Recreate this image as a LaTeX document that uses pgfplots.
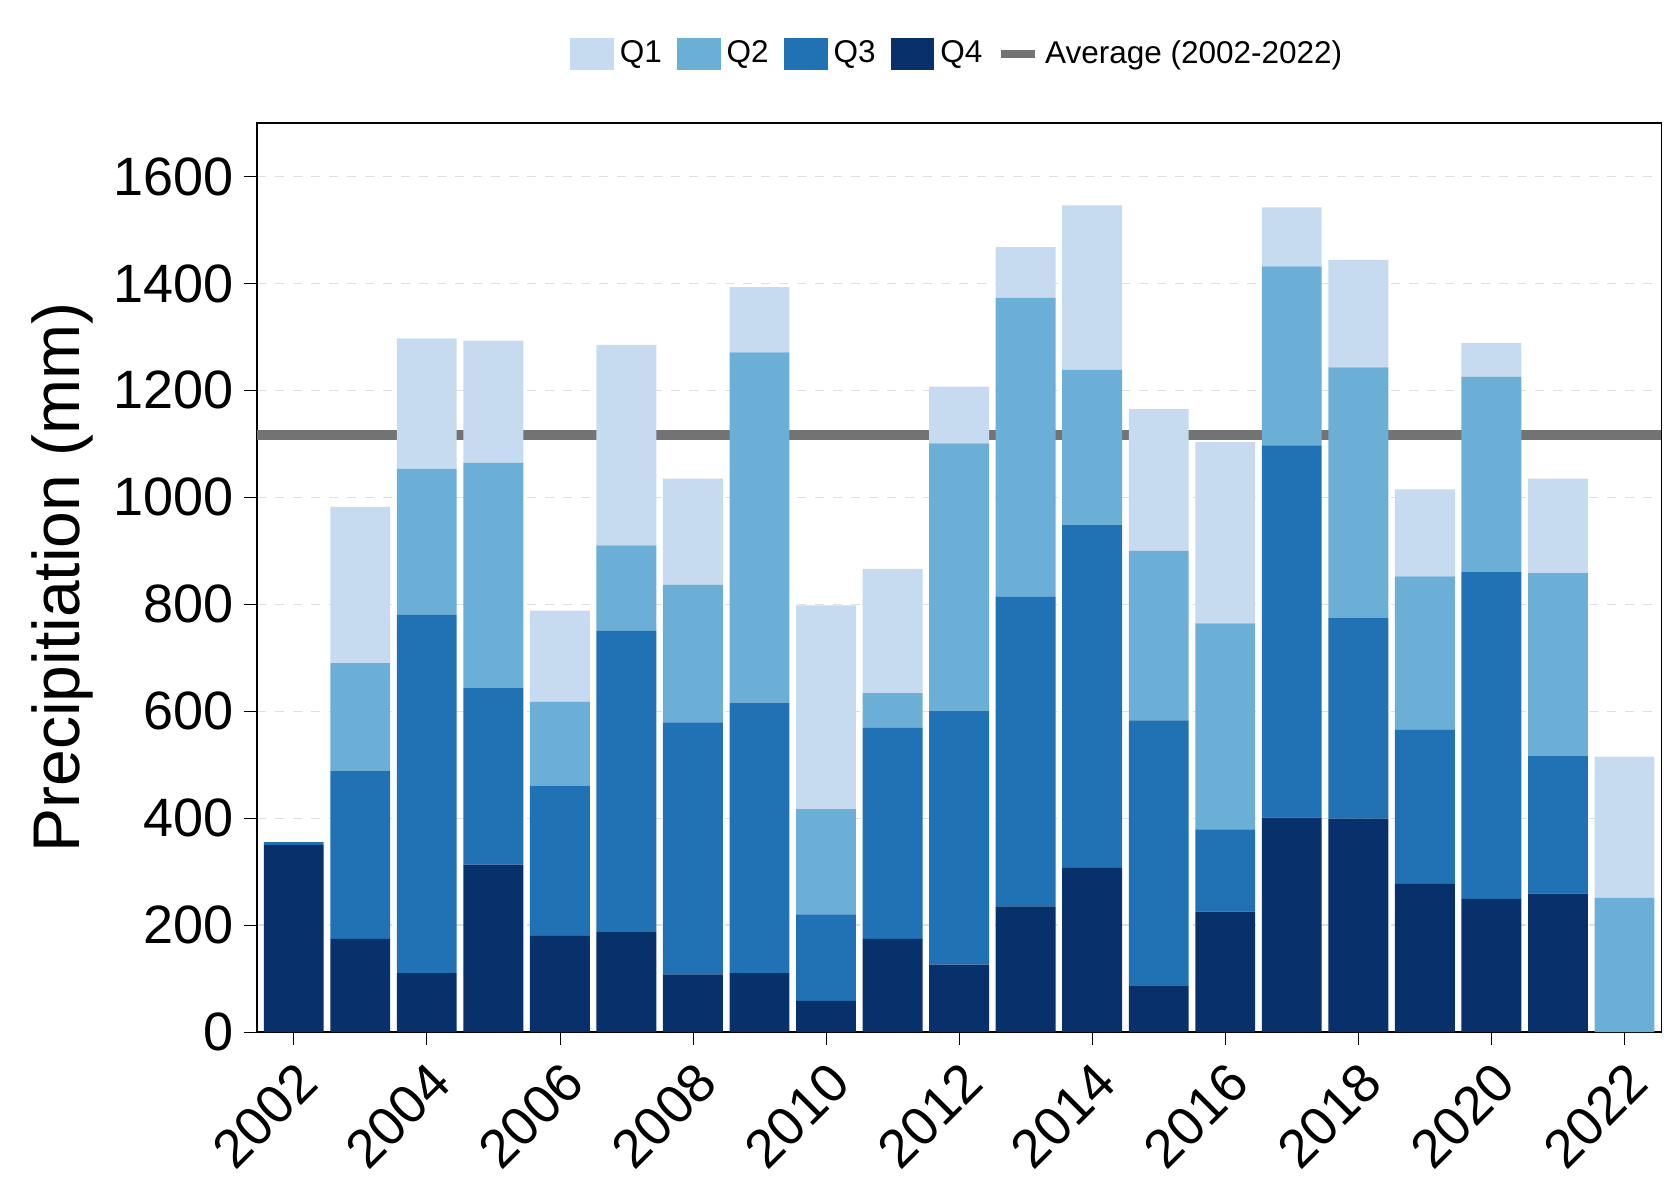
\documentclass[border=0pt]{standalone}
\usepackage{pgfplots}
\pgfplotsset{compat=1.18}
\usepackage{fontspec}
\setmainfont{Liberation Sans}
\definecolor{qa}{HTML}{C6DBEF}
\definecolor{qb}{HTML}{6BAED6}
\definecolor{qc}{HTML}{2171B5}
\definecolor{qd}{HTML}{08306B}
\begin{document}
\begin{tikzpicture}
\begin{axis}[
  scale only axis, width=468pt, height=303pt,
  ybar stacked, bar width=0.9,
  xmin=2001.45, xmax=2022.55, ymin=0, ymax=1700,
  xtick={2002,2004,...,2022},
  ytick={0,200,...,1600},
  x tick label style={rotate=45, anchor=north east, font=\fontsize{18}{20}\selectfont},
  y tick label style={font=\fontsize{18}{20}\selectfont},
  /pgf/number format/assume math mode=true,
  /pgf/number format/1000 sep={},
  ylabel={Precipitiation (mm)},
  ylabel style={font=\fontsize{22}{24}\selectfont},
  ymajorgrids, major grid style={dashed, gray!25},
  tick align=outside, tick style={black},
  xtick pos=bottom, ytick pos=left,
  legend style={at={(0.5,1)}, yshift=23pt, anchor=center, draw=none, legend columns=-1,
    font=\fontsize{10.5}{12}\selectfont, /tikz/every even column/.append style={column sep=3pt}},
]
\addplot[fill=qd, draw=none, forget plot] coordinates {(2002,350)(2003,174)(2004,110)(2005,313)(2006,180)(2007,188)(2008,108)(2009,110)(2010,58)(2011,174)(2012,126)(2013,235)(2014,307)(2015,86)(2016,225)(2017,401)(2018,399)(2019,277)(2020,249)(2021,259)(2022,0)};
\addplot[fill=qc, draw=none, forget plot] coordinates {(2002,5)(2003,315)(2004,670)(2005,331)(2006,281)(2007,562)(2008,471)(2009,506)(2010,162)(2011,395)(2012,474)(2013,579)(2014,641)(2015,497)(2016,154)(2017,696)(2018,375)(2019,288)(2020,611)(2021,258)(2022,0)};
\addplot[fill=qb, draw=none, forget plot] coordinates {(2002,0)(2003,201)(2004,273)(2005,421)(2006,157)(2007,160)(2008,257)(2009,655)(2010,197)(2011,65)(2012,501)(2013,559)(2014,291)(2015,317)(2016,385)(2017,335)(2018,469)(2019,287)(2020,365)(2021,341)(2022,251)};
\addplot[fill=qa, draw=none, forget plot] coordinates {(2002,0)(2003,292)(2004,244)(2005,228)(2006,170)(2007,375)(2008,199)(2009,122)(2010,381)(2011,232)(2012,106)(2013,95)(2014,307)(2015,265)(2016,339)(2017,110)(2018,201)(2019,163)(2020,64)(2021,177)(2022,264)};
\addlegendimage{legend image code/.code={\fill[qa] (0cm,-0.18cm) rectangle (0.5cm,0.18cm);}}\addlegendentry{Q1}
\addlegendimage{legend image code/.code={\fill[qb] (0cm,-0.18cm) rectangle (0.5cm,0.18cm);}}\addlegendentry{Q2}
\addlegendimage{legend image code/.code={\fill[qc] (0cm,-0.18cm) rectangle (0.5cm,0.18cm);}}\addlegendentry{Q3}
\addlegendimage{legend image code/.code={\fill[qd] (0cm,-0.18cm) rectangle (0.5cm,0.18cm);}}\addlegendentry{Q4\hspace{20pt}}
\addplot[stack plots=false, sharp plot, draw=gray!90!black, line width=3.3pt, no marks,
  legend image code/.code={\draw[line width=2.5pt, gray!90!black] (0cm,0cm) -- (0.4cm,0cm);}]
  coordinates {(2001.45,1117) (2022.55,1117)};
\addlegendentry{Average (2002-2022)}
\end{axis}
\useasboundingbox (-85.7pt,-56pt) rectangle (474.3pt,344pt);
\end{tikzpicture}
\end{document}
